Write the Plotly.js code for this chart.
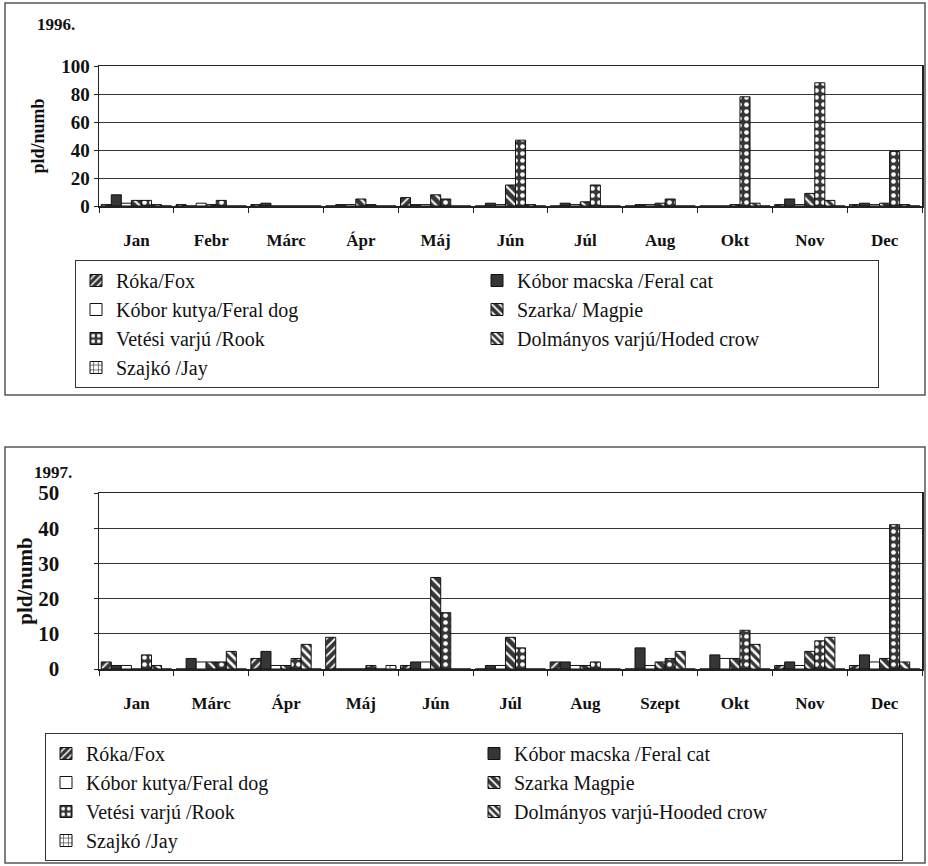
<!DOCTYPE html>
<html>
<head>
<meta charset="utf-8">
<script src="https://cdn.plot.ly/plotly-3.0.1.min.js"></script>
<style>
html,body{margin:0;padding:0;background:#fff;}
#chart{width:928px;height:866px;}
</style>
</head>
<body>
<div id="chart"></div>
<script>
// ---- Data ----
const months1996 = ["Jan", "Febr", "Márc", "Ápr", "Máj", "Jún", "Júl", "Aug", "Okt", "Nov", "Dec"];
const months1997 = ["Jan", "Márc", "Ápr", "Máj", "Jún", "Júl", "Aug", "Szept", "Okt", "Nov", "Dec"];

const names1996 = ["Róka/Fox", "Kóbor macska /Feral cat", "Kóbor kutya/Feral dog", "Szarka/ Magpie",
                   "Vetési varjú /Rook", "Dolmányos varjú/Hoded crow", "Szajkó /Jay"];
const names1997 = ["Róka/Fox", "Kóbor macska /Feral cat", "Kóbor kutya/Feral dog", "Szarka Magpie",
                   "Vetési varjú /Rook", "Dolmányos varjú-Hooded crow", "Szajkó /Jay"];

// 1996 values per series (order of months1996)
const fox1996    = [1, 1, 1, 0, 6, 0, 0, 0, 0, 1, 1];
const cat1996    = [8, 0, 2, 1, 1, 2, 2, 1, 0, 5, 2];
const dog1996    = [2, 2, 0, 1, 1, 1, 1, 1, 0, 1, 1];
const magpie1996 = [4, 1, 0, 5, 8, 15, 3, 2, 1, 9, 2];
const rook1996   = [4, 4, 0, 1, 5, 47, 15, 5, 78, 88, 39];
const hooded1996 = [1, 0, 0, 0, 0, 1, 0, 0, 2, 4, 1];
const jay1996    = [0, 0, 0, 0, 0, 0, 0, 0, 0, 0, 0];

// 1997 values per series (order of months1997)
const fox1997    = [2, 0, 3, 9, 1, 0, 2, 0, 0, 1, 1];
const cat1997    = [1, 3, 5, 0, 2, 1, 2, 6, 4, 2, 4];
const dog1997    = [1, 2, 1, 0, 2, 1, 1, 1, 3, 1, 2];
const magpie1997 = [0, 2, 1, 0, 26, 9, 1, 2, 3, 5, 3];
const rook1997   = [4, 2, 3, 1, 16, 6, 2, 3, 11, 8, 41];
const hooded1997 = [1, 5, 7, 0, 0, 0, 0, 5, 7, 9, 2];
const jay1997    = [0, 0, 0, 1, 0, 0, 0, 0, 0, 0, 0];

const yTicks1996 = [0, 20, 40, 60, 80, 100];
const yTicks1997 = [0, 10, 20, 30, 40, 50];

// ---- Styles ----
const DARK = "#363636";
const styles = [
  {color: DARK, pattern: {shape: "/", fgcolor: "#ffffff", bgcolor: DARK, size: 6, solidity: 0.3}},
  {color: DARK},
  {color: "#ffffff"},
  {color: DARK, pattern: {shape: "\\", fgcolor: "#ffffff", bgcolor: DARK, size: 7, solidity: 0.3}},
  {color: DARK, pattern: {shape: ".", fgcolor: "#ffffff", bgcolor: DARK, size: 7, solidity: 0.35}},
  {color: "#ffffff", pattern: {shape: "\\", fgcolor: DARK, bgcolor: "#ffffff", size: 6, solidity: 0.55}},
  {color: "#ffffff", pattern: {shape: "+", fgcolor: DARK, bgcolor: "#ffffff", size: 6, solidity: 0.25}}
];

const W = 928, H = 866;
const px = v => v / W;
const py = v => 1 - v / H;

const series1996 = [fox1996, cat1996, dog1996, magpie1996, rook1996, hooded1996, jay1996];
const series1997 = [fox1997, cat1997, dog1997, magpie1997, rook1997, hooded1997, jay1997];

const traces = [];
series1996.forEach((vals, i) => {
  const m = Object.assign({line: {color: "#111", width: 1}}, styles[i]);
  traces.push({type: "bar", x: months1996, y: vals, name: names1996[i], marker: m,
               xaxis: "x", yaxis: "y", legend: "legend", hoverinfo: "x+y+name"});
});
series1997.forEach((vals, i) => {
  const m = Object.assign({line: {color: "#111", width: 1}}, styles[i]);
  traces.push({type: "bar", x: months1997, y: vals, name: names1997[i], marker: m,
               xaxis: "x2", yaxis: "y2", legend: "legend2", hoverinfo: "x+y+name"});
});

const serif = "Liberation Serif";
const tickFontX = {family: serif, size: 17, color: "#111", weight: "bold"};
const legendFont = {family: serif, size: 20, color: "#111"};

const xaxisCommon = {
  type: "category", tickson: "boundaries", ticks: "outside", ticklen: 5, tickcolor: "#222",
  showline: true, linecolor: "#222", linewidth: 1.5, mirror: true,
  showgrid: false, tickfont: tickFontX, ticklabelstandoff: 18, fixedrange: true
};

const layout = {
  width: W, height: H,
  margin: {l: 0, r: 0, t: 0, b: 0, autoexpand: false},
  paper_bgcolor: "#ffffff", plot_bgcolor: "#ffffff",
  font: {family: serif, color: "#111"},
  barmode: "group", bargap: 0.06, bargroupgap: 0,
  xaxis: Object.assign({}, xaxisCommon, {domain: [px(99), px(922)], anchor: "y"}),
  yaxis: {
    domain: [py(206), py(66)], anchor: "x", range: [0, 100], tickvals: yTicks1996,
    showgrid: true, gridcolor: "#333", gridwidth: 1, zeroline: false,
    showline: true, linecolor: "#222", linewidth: 1.5, mirror: true,
    ticks: "outside", ticklen: 4, tickcolor: "#222",
    tickfont: {family: serif, size: 19, color: "#111", weight: "bold"},
    title: {text: "pld/numb", font: {family: serif, size: 18, color: "#111", weight: "bold"}, standoff: 12},
    fixedrange: true
  },
  xaxis2: Object.assign({}, xaxisCommon, {domain: [px(99), px(922)], anchor: "y2"}),
  yaxis2: {
    domain: [py(669), py(493)], anchor: "x2", range: [0, 50], tickvals: yTicks1997,
    showgrid: true, gridcolor: "#333", gridwidth: 1, zeroline: false,
    showline: true, linecolor: "#222", linewidth: 1.5, mirror: true,
    ticks: "outside", ticklen: 4, tickcolor: "#222", ticklabelstandoff: 30,
    tickfont: {family: serif, size: 21, color: "#111", weight: "bold"},
    title: {text: "pld/numb", font: {family: serif, size: 21, color: "#111", weight: "bold"}, standoff: 0},
    fixedrange: true
  },
  legend: {
    orientation: "h", x: px(75), xanchor: "left", y: py(260), yanchor: "top",
    entrywidth: 356, entrywidthmode: "pixels", itemwidth: 30,
    bordercolor: "#333", borderwidth: 1, bgcolor: "#ffffff", font: legendFont,
    traceorder: "normal", itemclick: false, itemdoubleclick: false
  },
  legend2: {
    orientation: "h", x: px(45), xanchor: "left", y: py(733), yanchor: "top",
    entrywidth: 383, entrywidthmode: "pixels", itemwidth: 30,
    bordercolor: "#333", borderwidth: 1, bgcolor: "#ffffff", font: legendFont,
    traceorder: "normal", itemclick: false, itemdoubleclick: false
  },
  shapes: [
    {type: "rect", xref: "paper", yref: "paper", x0: px(5), x1: px(925), y0: py(395), y1: py(3),
     line: {color: "#555", width: 1.5}, layer: "below"},
    {type: "rect", xref: "paper", yref: "paper", x0: px(5), x1: px(925), y0: py(863), y1: py(447),
     line: {color: "#555", width: 1.5}, layer: "below"}
  ],
  annotations: [
    {text: "1996.", xref: "paper", yref: "paper", x: px(35), y: py(25), xanchor: "left", yanchor: "middle",
     showarrow: false, font: {family: serif, size: 17, color: "#111", weight: "bold"}},
    {text: "1997.", xref: "paper", yref: "paper", x: px(32), y: py(472), xanchor: "left", yanchor: "middle",
     showarrow: false, font: {family: serif, size: 17, color: "#111", weight: "bold"}}
  ]
};

Plotly.newPlot("chart", traces, layout, {displayModeBar: false, staticPlot: true});
</script>
</body>
</html>
